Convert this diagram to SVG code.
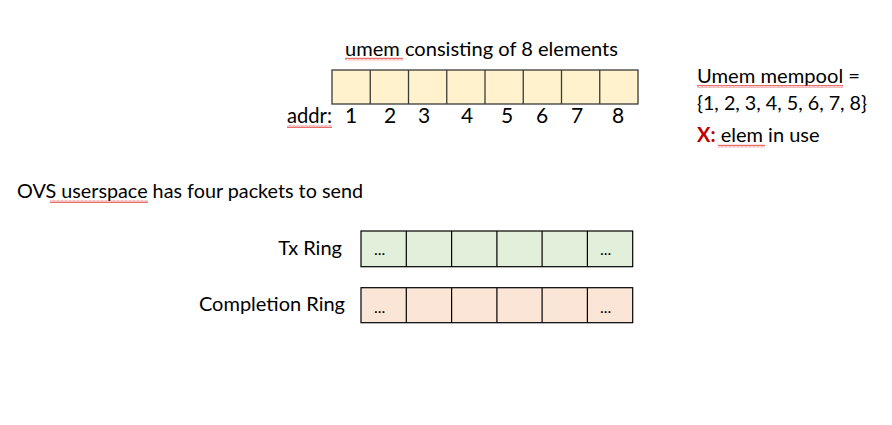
<svg xmlns="http://www.w3.org/2000/svg" width="892" height="425" viewBox="0 0 892 425">
<defs>
<pattern id="sq" width="4" height="3" patternUnits="userSpaceOnUse">
<polyline points="0,2.5 1,0.5 2,2.5 3,0.5 4,2.5" fill="none" stroke="#e03030" stroke-width="0.7"/>
</pattern>
</defs>
<style>
text{font-family:Lato,"Open Sans","Liberation Sans",sans-serif;fill:#000}
.t{font-size:20px}
.d{font-size:21px}
.e{font-size:16px}
.cell{stroke:#3a3a3a;stroke-width:1.3}
.ring{stroke:#000;stroke-width:1.2}
.sq{fill:url(#sq)}
</style>
<rect width="892" height="425" fill="#fff"/>

<g id="umem">
<text class="t" x="345" y="56" textLength="273" lengthAdjust="spacingAndGlyphs">umem consisting of 8 elements</text>
<rect class="sq" x="345" y="57.5" width="58" height="3"/>
<rect x="332" y="70" width="306" height="34" fill="#FFF2CC" class="cell"/>
<g class="cell" fill="none">
<line x1="370.25" y1="70" x2="370.25" y2="104"/>
<line x1="408.5" y1="70" x2="408.5" y2="104"/>
<line x1="446.75" y1="70" x2="446.75" y2="104"/>
<line x1="485" y1="70" x2="485" y2="104"/>
<line x1="523.25" y1="70" x2="523.25" y2="104"/>
<line x1="561.5" y1="70" x2="561.5" y2="104"/>
<line x1="599.75" y1="70" x2="599.75" y2="104"/>
</g>
<text class="d" x="287" y="123" textLength="45" lengthAdjust="spacingAndGlyphs">addr:</text>
<rect class="sq" x="287" y="125" width="45" height="3"/>
<g text-anchor="middle">
<text class="d" x="351" y="123">1</text>
<text class="d" x="390" y="123">2</text>
<text class="d" x="424" y="123">3</text>
<text class="d" x="467" y="123">4</text>
<text class="d" x="507" y="123">5</text>
<text class="d" x="542" y="123">6</text>
<text class="d" x="577" y="123">7</text>
<text class="d" x="618" y="123">8</text>
</g>
</g>

<g id="legend">
<text class="t" x="697" y="83" textLength="163" lengthAdjust="spacingAndGlyphs">Umem mempool =</text>
<rect class="sq" x="697" y="85" width="146" height="3"/>
<text class="t" x="697" y="110" textLength="170" lengthAdjust="spacingAndGlyphs">{1, 2, 3, 4, 5, 6, 7, 8}</text>
<text class="t" x="697" y="142"><tspan fill="#C00000" font-weight="bold">X:</tspan> elem in use</text>
<rect class="sq" x="718" y="144.5" width="47" height="3"/>
</g>

<g id="ovs">
<text class="t" x="17" y="198" textLength="346" lengthAdjust="spacingAndGlyphs">OVS userspace has four packets to send</text>
<rect class="sq" x="50" y="200" width="98" height="3"/>
</g>

<g id="txring">
<text class="t" x="342" y="255" text-anchor="end">Tx Ring</text>
<rect x="361" y="231" width="271.7" height="35.7" fill="#E2EFDA" class="ring"/>
<g class="ring">
<line x1="406.3" y1="231" x2="406.3" y2="266.7"/>
<line x1="451.6" y1="231" x2="451.6" y2="266.7"/>
<line x1="496.9" y1="231" x2="496.9" y2="266.7"/>
<line x1="542.1" y1="231" x2="542.1" y2="266.7"/>
<line x1="587.4" y1="231" x2="587.4" y2="266.7"/>
</g>
<text class="e" x="374" y="255">...</text>
<text class="e" x="600" y="255">...</text>
</g>

<g id="compring">
<text class="t" x="345" y="311" text-anchor="end">Completion Ring</text>
<rect x="361" y="287.7" width="271.7" height="35" fill="#FBE5D6" class="ring"/>
<g class="ring">
<line x1="406.3" y1="287.7" x2="406.3" y2="322.7"/>
<line x1="451.6" y1="287.7" x2="451.6" y2="322.7"/>
<line x1="496.9" y1="287.7" x2="496.9" y2="322.7"/>
<line x1="542.1" y1="287.7" x2="542.1" y2="322.7"/>
<line x1="587.4" y1="287.7" x2="587.4" y2="322.7"/>
</g>
<text class="e" x="374" y="313">...</text>
<text class="e" x="600" y="313">...</text>
</g>
</svg>
